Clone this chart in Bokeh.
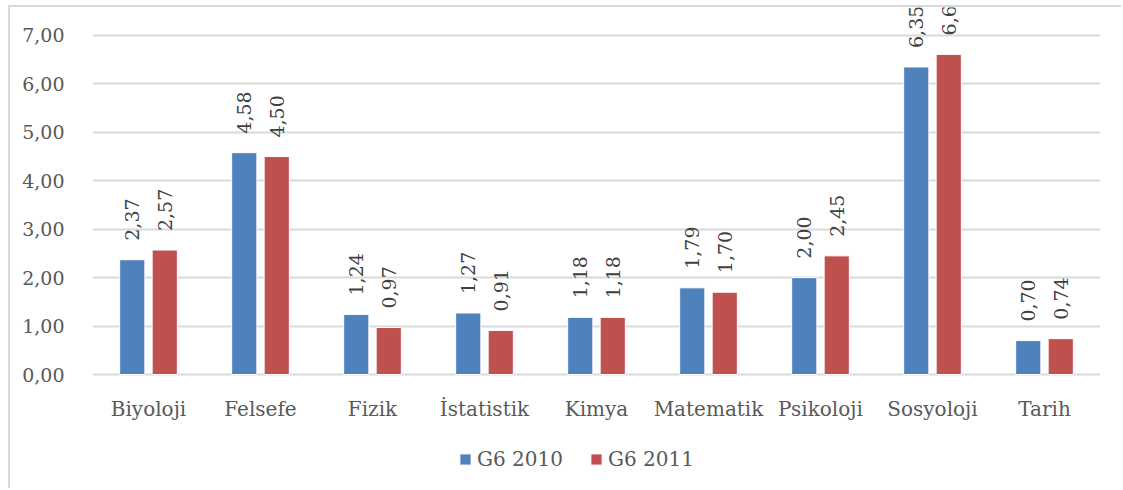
from bokeh.plotting import figure
from bokeh.models import ColumnDataSource, FactorRange, Legend, LegendItem, FixedTicker, CustomJSTickFormatter, LabelSet
from bokeh.transform import dodge
from bokeh.embed import file_html
from bokeh.resources import INLINE
from bokeh.core.properties import value

categories = ["Biyoloji", "Felsefe", "Fizik", "İstatistik", "Kimya", "Matematik", "Psikoloji", "Sosyoloji", "Tarih"]
g6_2010 = [2.37, 4.58, 1.24, 1.27, 1.18, 1.79, 2.00, 6.35, 0.70]
g6_2011 = [2.57, 4.50, 0.97, 0.91, 1.18, 1.70, 2.45, 6.61, 0.74]
y_ticks = [0, 1, 2, 3, 4, 5, 6, 7]

FONT = "DejaVu Serif"
BLUE = "#4F81BD"
RED = "#C0504D"

src = ColumnDataSource(dict(
    cat=categories,
    zero=[0] * len(categories),
    a=g6_2010,
    b=g6_2011,
    la=[f"{v:.2f}".replace(".", ",") for v in g6_2010],
    lb=[f"{v:.2f}".replace(".", ",") for v in g6_2011],
))

p = figure(x_range=FactorRange(*categories, range_padding=0), y_range=(-2.395, 7.578),
           width=1113, height=483, output_backend="svg", toolbar_location=None,
           min_border_left=82, min_border_right=23, min_border_top=0, min_border_bottom=0)

r1 = p.vbar(x=dodge("cat", -0.145, range=p.x_range), top="a", width=0.225, source=src,
            fill_color=BLUE, line_color="white", line_width=1)
r2 = p.vbar(x=dodge("cat", 0.145, range=p.x_range), top="b", width=0.225, source=src,
            fill_color=RED, line_color="white", line_width=1)

for col, lab, off in (("a", "la", -0.145), ("b", "lb", 0.145)):
    ls = LabelSet(x=dodge("cat", off, range=p.x_range), y=col, text=lab, source=src,
                  angle=1.5708, text_align="left", text_baseline="middle",
                  x_offset=0, y_offset=19, text_font=value(FONT), text_font_size="19px",
                  text_color="#404040")
    p.add_layout(ls)

# category labels under the baseline
cat_labels = LabelSet(x="cat", y="zero", text="cat", source=src, text_align="center",
                      text_baseline="middle", y_offset=-34, text_font=value(FONT),
                      text_font_size="20px", text_color="#595959")
p.add_layout(cat_labels)

p.xaxis.visible = False

p.yaxis.ticker = FixedTicker(ticks=y_ticks)
p.yaxis.formatter = CustomJSTickFormatter(code="return tick.toFixed(2).replace('.', ',');")
p.yaxis.major_label_text_font = FONT
p.yaxis.major_label_text_font_size = "19px"
p.yaxis.major_label_text_color = "#595959"
p.yaxis.axis_line_color = None
p.yaxis.major_tick_line_color = None
p.yaxis.minor_tick_line_color = None
p.yaxis.major_label_standoff = 22

p.xgrid.grid_line_color = None
p.ygrid.grid_line_color = "#d9d9d9"
p.ygrid.grid_line_width = 2
p.ygrid.ticker = FixedTicker(ticks=y_ticks)
p.outline_line_color = None

legend = Legend(items=[LegendItem(label="G6 2010", renderers=[r1]),
                       LegendItem(label="G6 2011", renderers=[r2])],
                orientation="horizontal", location=(366, 19),
                label_text_font=FONT, label_text_font_size="20px", label_text_color="#595959",
                glyph_width=14, glyph_height=14, label_standoff=5, spacing=26,
                padding=0, margin=0, border_line_color=None, background_fill_alpha=0)
p.add_layout(legend, "center")

p.styles = {"margin-left": "8px", "margin-top": "5px",
            "border-left": "2px solid #d9d9d9", "border-top": "2px solid #d9d9d9"}

open("out.html", "w").write(file_html(p, INLINE))
